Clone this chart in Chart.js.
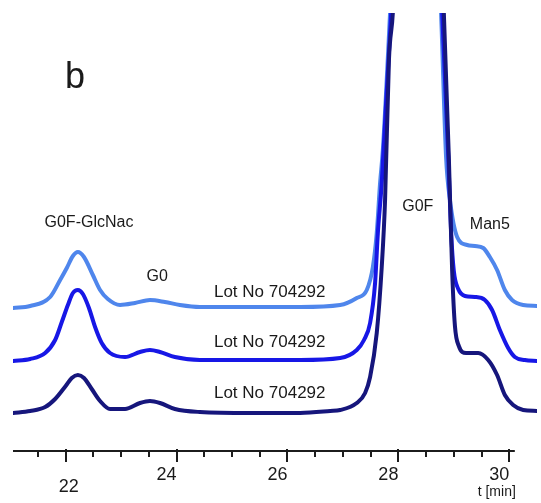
<!DOCTYPE html>
<html>
<head>
<meta charset="utf-8">
<style>
  html, body { margin: 0; padding: 0; background: #fff; }
  #wrap { width: 541px; height: 503px; }
</style>
<script src="https://cdn.jsdelivr.net/npm/chart.js@4.4.1/dist/chart.umd.min.js"></script>
</head>
<body>
<div id="wrap"><canvas id="chart" width="541" height="503"></canvas></div>
<script>
// retention time [min], detector signal (traces offset, arbitrary units)
const lotTop = [
  [21.05,143],[21.36,145],[21.72,154],[21.90,171],[22.02,183],[22.13,195],[22.22,199],[22.33,194],
  [22.49,176],[22.62,161],[22.76,152],[22.98,146],[23.25,148],[23.52,151],[23.79,149],[24.06,146],
  [24.42,144],[25.32,144],[26.23,144],[26.95,146],[27.25,153],[27.43,161],[27.54,184],[27.61,218],
  [27.67,268],[27.72,301],[27.85,438],[28.33,1000],[28.77,438],[28.86,294],[28.93,251],[29.06,214],
  [29.24,206],[29.38,205],[29.53,203],[29.65,194],[29.78,181],[29.92,161],[30.05,151],[30.25,146],[30.50,145]
];
const lotMid = [
  [21.05,90],[21.36,92],[21.63,98],[21.81,111],[21.93,129],[22.04,146],[22.13,158],[22.22,161],
  [22.31,157],[22.42,143],[22.53,124],[22.65,108],[22.80,98],[23.07,94],[23.34,99],[23.52,101],
  [23.70,99],[23.97,94],[24.42,91],[25.32,91],[26.23,91],[26.95,93],[27.25,101],[27.38,111],
  [27.49,128],[27.58,168],[27.63,218],[27.70,268],[27.78,350],[27.87,438],[28.33,1000],[28.79,438],
  [28.90,294],[28.95,220],[29.00,180],[29.08,162],[29.20,155],[29.38,154],[29.56,151],[29.69,141],
  [29.83,121],[29.98,103],[30.10,94],[30.28,91],[30.50,90]
];
const lotLow = [
  [21.05,38],[21.36,40],[21.63,44],[21.81,52],[22.00,65],[22.11,73],[22.22,76],[22.33,73],
  [22.47,62],[22.62,50],[22.80,42],[23.07,42],[23.34,48],[23.52,50],[23.70,48],[23.97,42],
  [24.42,39],[25.32,38],[26.23,38],[26.77,40],[26.95,41],[27.25,48],[27.40,58],[27.49,74],
  [27.61,118],[27.70,184],[27.76,251],[27.83,391],[27.90,438],[28.33,1000],[28.82,438],[28.91,294],
  [28.97,180],[29.02,125],[29.09,105],[29.22,98],[29.44,98],[29.62,91],[29.78,76],[29.92,56],
  [30.07,46],[30.25,41],[30.50,40]
];
const lotNames = ["Lot No 704292", "Lot No 704292", "Lot No 704292"];
const peakNames = ["G0F-GlcNac", "G0", "G0F", "Man5"];
const tickLabels = ["22", "24", "26", "28", "30"];
const axisTitle = "t [min]";

const LIGHT = "#4f86ec", MID = "#1717e6", DARK = "#16167c";
const FONT = "'Liberation Sans', Arial, Helvetica, sans-serif";

const toXY = tr => tr.map(([x, y]) => ({ x, y }));

// label anchors in data units (time, signal)
const peakAt = [[22.42, 224], [23.65, 170], [28.35, 240], [29.65, 222]];
const lotAt = [[25.68, 154], [25.68, 104], [25.68, 53]];

const decor = {
  id: "decor",
  afterDraw(chart) {
    const { ctx, scales: { x, y }, chartArea } = chart;
    const base = chartArea.bottom;
    ctx.save();
    ctx.strokeStyle = "#1c1c1c";
    ctx.lineWidth = 2;
    ctx.beginPath();
    ctx.moveTo(x.getPixelForValue(21.05), base);
    ctx.lineTo(x.getPixelForValue(30.1), base);
    ctx.stroke();
    for (let t = 21.5; t <= 30.01; t += 0.5) {
      const px = Math.round(x.getPixelForValue(t));
      const major = Math.abs(t % 2) < 0.01;
      ctx.beginPath();
      ctx.moveTo(px, major ? base - 2 : base);
      ctx.lineTo(px, base + (major ? 11 : 6));
      ctx.stroke();
    }
    ctx.fillStyle = "#1a1a1a";
    ctx.textAlign = "center";
    ctx.textBaseline = "alphabetic";
    ctx.font = "18px " + FONT;
    tickLabels.forEach(lbl => {
      const v = Number(lbl);
      const first = v === 22;
      ctx.fillText(lbl, x.getPixelForValue(v) + (first ? 3 : -10), base + (first ? 41 : 29));
    });
    ctx.font = "14px " + FONT;
    ctx.textAlign = "right";
    ctx.fillText(axisTitle, x.getPixelForValue(30.1) + 1, base + 45);

    ctx.textAlign = "center";
    ctx.font = "16px " + FONT;
    peakNames.forEach((n, i) => {
      ctx.fillText(n, x.getPixelForValue(peakAt[i][0]), y.getPixelForValue(peakAt[i][1]));
    });
    ctx.font = "17px " + FONT;
    lotNames.forEach((n, i) => {
      ctx.fillText(n, x.getPixelForValue(lotAt[i][0]), y.getPixelForValue(lotAt[i][1]));
    });
    ctx.textAlign = "left";
    ctx.font = "36px " + FONT;
    ctx.fillText("b", 65, 88);
    ctx.restore();
  }
};

const line = (label, data, color) => ({
  label, data: toXY(data), borderColor: color, backgroundColor: color,
  borderWidth: 4, pointRadius: 0, cubicInterpolationMode: "monotone",
  borderCapStyle: "round", borderJoinStyle: "round", clip: 0
});

new Chart(document.getElementById("chart"), {
  type: "line",
  data: {
    datasets: [
      line(lotNames[2], lotLow, DARK),
      line(lotNames[1], lotMid, MID),
      line(lotNames[0], lotTop, LIGHT)
    ]
  },
  options: {
    responsive: false,
    animation: false,
    devicePixelRatio: 1,
    layout: { padding: { top: 13, bottom: 52, left: 13, right: 4 } },
    elements: { line: { capBezierPoints: false } },
    plugins: { legend: { display: false }, tooltip: { enabled: false } },
    scales: {
      x: { type: "linear", min: 21.05, max: 30.5, display: false },
      y: { min: 0, max: 438, display: false }
    }
  },
  plugins: [decor]
});
</script>
</body>
</html>
